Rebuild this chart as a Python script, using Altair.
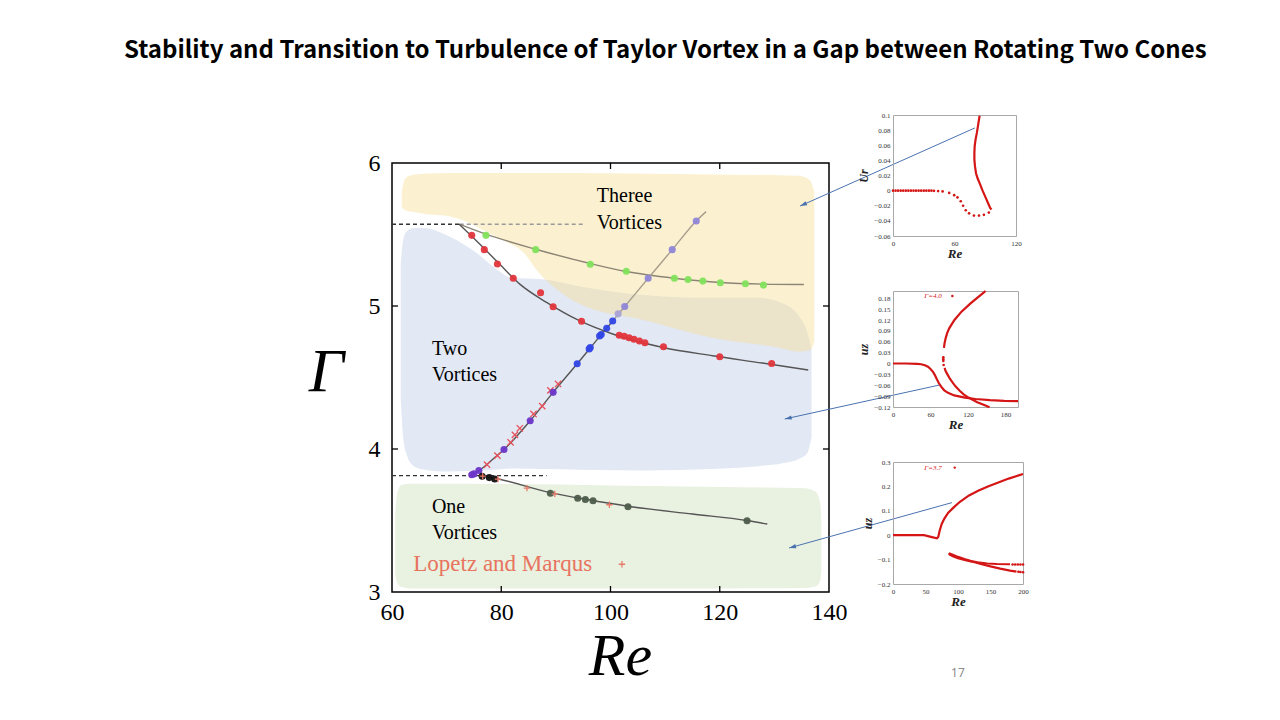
import altair as alt
import pandas as pd

TITLE = "Stability and Transition to Turbulence of Taylor Vortex in a Gap between Rotating Two Cones"
SERIF = "Liberation Serif"

# ---------------- main chart : axes ----------------
x_ticks = [60, 80, 100, 120, 140]
y_ticks = [3, 4, 5, 6]
inner_x_ticks = [80, 100, 120]
inner_y_ticks = [4, 5]

# ---------------- shaded regions ----------------
blue_re = [61.6, 62.0, 62.6, 64.0, 66.0, 69.1, 72.1, 75.7, 78.8, 81.9, 88.0, 94.0, 106.6, 118.6, 127.0, 131.5, 134.5, 136.0, 136.8]
blue_top = [5.30, 5.45, 5.52, 5.545, 5.546, 5.511, 5.455, 5.365, 5.267, 5.197, 5.185, 5.14, 5.075, 5.057, 5.057, 5.02, 4.93, 4.82, 4.70]
blue_bot = [4.35, 4.10, 3.97, 3.88, 3.855, 3.843, 3.845, 3.85, 3.855, 3.863, 3.86, 3.855, 3.85, 3.86, 3.88, 3.90, 3.93, 3.97, 4.08]

yellow_re = [61.8, 62.4, 63.5, 66.0, 70.2, 73.3, 77.0, 80.6, 84.3, 86.5, 90.0, 94.3, 106.6, 118.6, 130.9, 134.5, 136.5, 137.3]
yellow_top = [5.80, 5.89, 5.915, 5.925, 5.93, 5.93, 5.93, 5.93, 5.93, 5.93, 5.93, 5.93, 5.925, 5.92, 5.915, 5.91, 5.88, 5.80]
yellow_bot = [5.69, 5.67, 5.66, 5.644, 5.63, 5.595, 5.525, 5.455, 5.365, 5.25, 5.12, 5.015, 4.897, 4.778, 4.708, 4.68, 4.69, 4.75]

green_re = [60.6, 61.0, 61.8, 63.5, 80.0, 100.0, 120.0, 135.5, 137.6, 138.4, 138.6]
green_top = [3.55, 3.70, 3.75, 3.757, 3.755, 3.745, 3.735, 3.725, 3.70, 3.62, 3.50]
green_bot = [3.12, 3.06, 3.035, 3.025, 3.025, 3.025, 3.025, 3.028, 3.04, 3.08, 3.15]

# ---------------- critical lines ----------------
dash_re = [60.0, 72.4, 60.0]
dash_re2 = [72.4, 94.9, 88.3]
dash_g = [5.572, 5.572, 3.814]
dash_kind = ["black", "gray", "black"]

two_line_re = [72.3, 76.1, 79.7, 83.4, 88.3, 94.3, 100.4, 109.6, 118.7, 127.8, 136.2]
two_line_g = [5.572, 5.432, 5.293, 5.153, 5.025, 4.897, 4.804, 4.71, 4.652, 4.601, 4.552]

three_line_re = [72.3, 77.2, 86.3, 96.3, 102.9, 111.7, 120.1, 128.0, 135.4]
three_line_g = [5.572, 5.502, 5.397, 5.297, 5.241, 5.194, 5.164, 5.153, 5.15]

diag_low_re = [75.0, 76.5, 78.5, 80.5, 85.3, 89.5, 93.9, 98.3, 100.4]
diag_low_g = [3.826, 3.865, 3.93, 3.996, 4.198, 4.396, 4.596, 4.80, 4.895]
diag_up_re = [100.4, 102.6, 106.9, 111.3, 115.7, 117.5]
diag_up_g = [4.895, 4.996, 5.194, 5.394, 5.595, 5.66]

one_line_re = [76.1, 79.5, 89.0, 96.0, 103.2, 115.0, 125.0, 128.7]
one_line_g = [3.814, 3.79, 3.695, 3.645, 3.60, 3.545, 3.50, 3.475]

# ---------------- data points ----------------
red_re = [74.6, 76.9, 79.3, 82.2, 87.2, 89.5, 94.7, 101.6, 102.5, 103.4, 104.3, 105.3, 106.3, 109.7, 120.0, 129.5]
red_g = [5.494, 5.394, 5.294, 5.194, 5.093, 4.995, 4.893, 4.795, 4.788, 4.778, 4.767, 4.755, 4.743, 4.715, 4.645, 4.598]

green_pt_re = [77.2, 86.3, 96.3, 102.9, 111.7, 114.2, 116.9, 120.1, 124.7, 128.0]
green_pt_g = [5.494, 5.394, 5.292, 5.243, 5.194, 5.185, 5.174, 5.162, 5.155, 5.146]

violet_re = [115.7, 111.3, 106.9, 102.6]
violet_g = [5.595, 5.394, 5.194, 4.996]
lightviolet_re = [101.4]
lightviolet_g = [4.945]

blue_pt_re = [100.4, 99.3, 98.3, 98.0, 96.3, 96.1, 93.9]
blue_pt_g = [4.895, 4.845, 4.80, 4.79, 4.71, 4.70, 4.596]

purple_re = [89.5, 85.3, 80.5, 75.9, 75.0, 74.6]
purple_g = [4.396, 4.198, 3.996, 3.85, 3.826, 3.82]

black_re = [76.5, 77.8, 78.8]
black_g = [3.81, 3.80, 3.79]

dark_re = [89.0, 94.0, 95.4, 96.8, 103.2, 125.0]
dark_g = [3.69, 3.656, 3.647, 3.638, 3.596, 3.498]

xmark_re = [77.4, 79.3, 81.7, 82.5, 83.4, 85.9, 87.5, 89.0, 90.4]
xmark_g = [3.89, 3.954, 4.047, 4.099, 4.145, 4.245, 4.30, 4.41, 4.455]

plus_re = [76.6, 79.4, 84.7, 89.8, 99.8, 102.1]
plus_g = [3.81, 3.79, 3.726, 3.686, 3.61, 3.194]

# ---------------- region labels ----------------
label_text = ["Theree", "Vortices", "Two", "Vortices", "One", "Vortices"]
label_re = [97.5, 97.5, 67.3, 67.3, 67.3, 67.3]
label_g = [5.769, 5.58, 4.70, 4.517, 3.594, 3.415]
ref_text = ["Lopetz and Marqus"]
ref_re = [63.9]
ref_g = [3.194]

# ---------------- arrows to insets (main-chart data units) ----------------
arrow_re = [166.7, 160.3, 162.5]
arrow_g = [6.245, 4.448, 3.625]
arrow_re2 = [134.7, 131.9, 132.7]
arrow_g2 = [5.699, 4.21, 3.308]
arrow_ang = [246, 257.6, 254.4]

page_text = ["17"]
page_re = [163.6]
page_g = [2.434]

# ---------------- inset 1 : Ur vs Re ----------------
in1_dot_x = [0, 2.5, 5, 7.5, 10, 12.5, 15, 17.5, 20, 22.5, 25, 27.5, 30, 32.5, 35, 37.5, 40, 44, 48.4, 54.8, 59.7, 62.9, 66.1, 68.4, 71.0, 74.2, 79.0, 83.9, 88.7, 93.5]
in1_dot_y = [0, 0, 0, 0, 0, 0, 0, 0, 0, 0, 0, 0, 0, 0, 0, 0, -0.0003, -0.0006, -0.001, -0.003, -0.006, -0.009, -0.014, -0.020, -0.026, -0.030, -0.033, -0.033, -0.032, -0.029]
in1_line_x = [96.1, 94.8, 92.9, 90.3, 87.4, 84.8, 82.6, 81.0, 80.0, 79.4, 79.4, 79.7, 80.6, 81.9, 83.2, 84.5]
in1_line_y = [-0.025, -0.023, -0.017, -0.009, 0.0, 0.009, 0.016, 0.023, 0.032, 0.041, 0.050, 0.059, 0.068, 0.077, 0.088, 0.099]

# ---------------- inset 2 : uz vs Re (Gamma = 4.0) ----------------
in2_a_x = [0, 20, 39, 45, 51, 56, 60, 64, 67, 70, 73, 77, 82, 88, 98, 115, 132, 155, 178, 200]
in2_a_y = [0, 0, -0.001, -0.002, -0.005, -0.009, -0.015, -0.023, -0.032, -0.043, -0.053, -0.064, -0.074, -0.081, -0.088, -0.094, -0.098, -0.101, -0.103, -0.104]
in2_b_x = [81.5, 82.5, 84.3, 86.5, 89.9, 98.3, 109.6, 123.6, 137.6, 146.0, 148.0]
in2_b_y = [0.043, 0.056, 0.07, 0.083, 0.097, 0.12, 0.143, 0.165, 0.185, 0.197, 0.2]
in2_c_x = [82.6, 84.0, 87.1, 91.0, 95.5, 100.0, 106.7, 113.0, 120.8, 134.8, 145.0, 154.5]
in2_c_y = [-0.012, -0.02, -0.030, -0.042, -0.053, -0.063, -0.075, -0.085, -0.094, -0.107, -0.114, -0.121]
in2_dot_x = [80.5, 80.5, 80.5, 81.0]
in2_dot_y = [0.017, 0.012, 0.007, -0.004]

# ---------------- inset 3 : uz vs Re (Gamma = 3.7) ----------------
in3_a_x = [0, 21.8, 42.6, 47.8, 58.2, 67.5, 69.6, 71.7, 74.8, 79.0, 85.0, 93.0, 103.0, 117.0, 131.0, 146.0, 162.0, 178.0, 200.0]
in3_a_y = [0, 0, 0, 0, -0.007, -0.013, -0.007, 0.017, 0.045, 0.068, 0.092, 0.113, 0.137, 0.163, 0.182, 0.200, 0.216, 0.232, 0.251]
in3_b_x = [86, 88, 92, 100, 110, 120, 130, 145, 160, 180]
in3_b_y = [-0.074, -0.076, -0.080, -0.089, -0.098, -0.106, -0.111, -0.116, -0.118, -0.119]
in3_c_x = [86, 87, 92, 100, 110, 120, 135, 150, 165, 180, 190]
in3_c_y = [-0.074, -0.079, -0.086, -0.094, -0.101, -0.107, -0.118, -0.128, -0.137, -0.145, -0.149]
in3_dot_x = [184, 188, 192, 196, 200, 193, 196, 200]
in3_dot_y = [-0.12, -0.12, -0.12, -0.12, -0.12, -0.150, -0.151, -0.152]

# ---------------- layout constants ----------------
MAIN_W, MAIN_H = 437, 429
RED = "#d41616"

xs = alt.Scale(domain=[60, 140], nice=False, zero=False)
ys = alt.Scale(domain=[3, 6], nice=False, zero=False)
xax = alt.Axis(values=x_ticks, title="Re", grid=False, ticks=False, domain=False,
               labelFont=SERIF, labelFontSize=24, labelColor="black", labelPadding=8,
               labelFlush=False, labelOverlap=False,
               titleFont=SERIF, titleFontStyle="italic", titleFontWeight="normal",
               titleFontSize=60, titleColor="black", titleX=228, titleY=64,
               titleBaseline="middle", titleAlign="center")
yax = alt.Axis(values=y_ticks, title="Γ", grid=False, ticks=False, domain=False,
               labelFont=SERIF, labelFontSize=24, labelColor="black", labelPadding=12,
               labelFlush=False, labelOverlap=False,
               titleFont=SERIF, titleFontStyle="italic", titleFontWeight="normal",
               titleFontSize=62, titleColor="black", titleAngle=0, titleX=-66, titleY=208,
               titleBaseline="middle", titleAlign="center")


def X(f="re"):
    return alt.X(f + ":Q", scale=xs, axis=xax)


def Y(f="g"):
    return alt.Y(f + ":Q", scale=ys, axis=yax)


def df(**cols):
    return pd.DataFrame(cols)


def area(re, top, bot, color, opacity):
    return alt.Chart(df(re=re, g=top, g2=bot)).mark_area(
        color=color, opacity=opacity, interpolate="monotone").encode(x=X(), y=Y(), y2="g2:Q")


def line(re, g, color, width=1.4):
    return alt.Chart(df(re=re, g=g)).mark_line(
        color=color, strokeWidth=width, interpolate="monotone").encode(x=X(), y=Y())


def dots(re, g, color, size=50, opacity=0.95):
    return alt.Chart(df(re=re, g=g)).mark_circle(
        color=color, size=size, opacity=opacity).encode(x=X(), y=Y())


XSHAPE = "M -1 -1 L 1 1 M -1 1 L 1 -1"
PSHAPE = "M -1 0 L 1 0 M 0 -1 L 0 1"
HEAD = "M 0 0 L 0.55 1.8 L -0.55 1.8 Z"

layers = [
    area(blue_re, blue_top, blue_bot, "#e2e8f4", 1.0),
    area(yellow_re, yellow_top, yellow_bot, "#f7e09a", 0.45),
    area(green_re, green_top, green_bot, "#e9f1e0", 1.0),
    alt.Chart(df(re=dash_re, re2=dash_re2, g=dash_g, k=dash_kind)).mark_rule(
        strokeDash=[4, 3], strokeWidth=1.4).encode(
        x=X(), x2="re2:Q", y=Y(),
        color=alt.Color("k:N", scale=alt.Scale(domain=["black", "gray"], range=["#333333", "#9a9a9a"]), legend=None)),
    line(three_line_re, three_line_g, "#8c8474"),
    line(two_line_re, two_line_g, "#555555"),
    line(diag_up_re, diag_up_g, "#a89e8e"),
    line(diag_low_re, diag_low_g, "#555555"),
    line(one_line_re, one_line_g, "#555555"),
    dots(green_pt_re, green_pt_g, "#82e25c"),
    dots(red_re, red_g, "#e2353c"),
    dots(violet_re, violet_g, "#8f86d8"),
    dots(lightviolet_re, lightviolet_g, "#a9a2d6"),
    dots(blue_pt_re, blue_pt_g, "#3046e6"),
    alt.Chart(df(re=xmark_re, g=xmark_g)).mark_point(
        shape=XSHAPE, size=40, filled=False, color="#e8505a", strokeWidth=1.3, opacity=1).encode(x=X(), y=Y()),
    dots(purple_re, purple_g, "#6b35c8"),
    dots(black_re, black_g, "#111111"),
    dots(dark_re, dark_g, "#4d5c4b"),
    alt.Chart(df(re=plus_re, g=plus_g)).mark_point(
        shape=PSHAPE, size=40, filled=False, color="#e87a6a", strokeWidth=1.3, opacity=1).encode(x=X(), y=Y()),
    alt.Chart(df(re=label_re, g=label_g, t=label_text)).mark_text(
        font=SERIF, fontSize=20, align="left", baseline="middle", color="black").encode(x=X(), y=Y(), text="t:N"),
    alt.Chart(df(re=ref_re, g=ref_g, t=ref_text)).mark_text(
        font=SERIF, fontSize=23, align="left", baseline="middle", color="#e8735f").encode(x=X(), y=Y(), text="t:N"),
    # inward ticks
    alt.Chart(df(re=inner_x_ticks)).mark_rule(color="black", strokeWidth=1.3).encode(
        x=X(), y=alt.value(MAIN_H), y2=alt.value(MAIN_H - 6)),
    alt.Chart(df(re=inner_x_ticks)).mark_rule(color="black", strokeWidth=1.3).encode(
        x=X(), y=alt.value(0), y2=alt.value(6)),
    alt.Chart(df(g=inner_y_ticks)).mark_rule(color="black", strokeWidth=1.3).encode(
        y=Y(), x=alt.value(0), x2=alt.value(6)),
    alt.Chart(df(g=inner_y_ticks)).mark_rule(color="black", strokeWidth=1.3).encode(
        y=Y(), x=alt.value(MAIN_W), x2=alt.value(MAIN_W - 6)),
    # arrows
    alt.Chart(df(re=arrow_re, g=arrow_g, re2=arrow_re2, g2=arrow_g2)).mark_rule(
        color="#4a72b0", strokeWidth=1).encode(x=X(), y=Y(), x2="re2:Q", y2="g2:Q"),
    alt.Chart(df(re=arrow_re2, g=arrow_g2, a=arrow_ang)).mark_point(
        shape=HEAD, size=60, filled=True, color="#4a72b0", opacity=1).encode(
        x=X(), y=Y(), angle=alt.Angle("a:Q", scale=None)),
    alt.Chart(df(re=page_re, g=page_g, t=page_text)).mark_text(
        font="Noto Sans", fontSize=12, color="#8a8a8a", align="center", baseline="middle").encode(
        x=X(), y=Y(), text="t:N"),
]

main = alt.layer(*layers).properties(
    width=MAIN_W, height=MAIN_H, view=alt.ViewBackground(stroke="black", strokeWidth=1.5))

spacer = alt.Chart(df(s=[0])).mark_point(opacity=0).encode(
    x=alt.X("s:Q", axis=None), y=alt.Y("s:Q", axis=None)).properties(width=MAIN_W, height=48)


def inset(lines, dotsets, xdom, xvals, ydom, yvals, ytitle, w, h, legend=None):
    sx = alt.Scale(domain=xdom, nice=False, zero=False)
    sy = alt.Scale(domain=ydom, nice=False, zero=False)
    ax = alt.Axis(values=xvals, grid=False, ticks=False, domain=False, title="Re",
                  labelFont=SERIF, labelFontSize=7, labelColor="#333333", labelPadding=3,
                  labelFlush=False, labelOverlap=False,
                  titleFont=SERIF, titleFontStyle="italic", titleFontWeight="bold",
                  titleFontSize=13, titleColor="#222222", titlePadding=1)
    ay = alt.Axis(values=yvals, grid=False, ticks=False, domain=False, title=ytitle, format="~g",
                  labelFont=SERIF, labelFontSize=7, labelColor="#333333", labelPadding=3,
                  labelFlush=False, labelOverlap=False,
                  titleFont=SERIF, titleFontStyle="italic", titleFontWeight="bold",
                  titleFontSize=12, titleColor="#222222", titlePadding=3)
    ex = lambda: alt.X("x:Q", scale=sx, axis=ax)
    ey = lambda: alt.Y("y:Q", scale=sy, axis=ay)
    parts = []
    for xs_, ys_ in lines:
        parts.append(alt.Chart(df(x=xs_, y=ys_, o=list(range(len(xs_))))).mark_line(
            color=RED, strokeWidth=2.2).encode(x=ex(), y=ey(), order="o:Q"))
    for xs_, ys_ in dotsets:
        parts.append(alt.Chart(df(x=xs_, y=ys_)).mark_circle(
            color=RED, size=7, opacity=1).encode(x=ex(), y=ey()))
    if legend is not None:
        lt, lx, ly, dx_ = legend
        parts.append(alt.Chart(df(x=[lx], y=[ly], t=[lt])).mark_text(
            font=SERIF, fontSize=7, fontStyle="italic", color=RED, align="left", baseline="middle").encode(
            x=ex(), y=ey(), text="t:N"))
        parts.append(alt.Chart(df(x=[dx_], y=[ly])).mark_circle(color=RED, size=6, opacity=1).encode(
            x=ex(), y=ey()))
    return alt.layer(*parts).properties(
        width=w, height=h, view=alt.ViewBackground(stroke="#a8a8a8", strokeWidth=1))


inset1 = inset([(in1_line_x, in1_line_y)], [(in1_dot_x, in1_dot_y)],
               [0, 120], [0, 60, 120], [-0.06, 0.1],
               [-0.06, -0.04, -0.02, 0, 0.02, 0.04, 0.06, 0.08, 0.1], "Ur", 123, 121)
inset2 = inset([(in2_a_x, in2_a_y), (in2_b_x, in2_b_y), (in2_c_x, in2_c_y)], [(in2_dot_x, in2_dot_y)],
               [0, 200], [0, 60, 120, 180], [-0.12, 0.2],
               [-0.12, -0.09, -0.06, -0.03, 0, 0.03, 0.06, 0.09, 0.12, 0.15, 0.18], "uz", 125, 116,
               legend=("Γ=4.0", 50, 0.186, 95))
inset3 = inset([(in3_a_x, in3_a_y), (in3_b_x, in3_b_y), (in3_c_x, in3_c_y)], [(in3_dot_x, in3_dot_y)],
               [0, 200], [0, 50, 100, 150, 200], [-0.2, 0.3],
               [-0.2, -0.1, 0, 0.1, 0.2, 0.3], "uz", 130, 122,
               legend=("Γ=3.7", 48, 0.277, 95))

left = alt.vconcat(spacer, main, spacing=0, bounds="flush")
right = alt.vconcat(inset1, inset2, inset3, spacing=55, bounds="flush")

chart = alt.hconcat(left, right, spacing=501, bounds="flush").properties(
    title=alt.TitleParams(TITLE, font="Noto Sans CJK JP", fontSize=24, fontWeight="bold",
                          color="black", anchor="start", frame="group", dx=-268, offset=48),
    padding={"left": 116, "top": 30, "right": 0, "bottom": 0},
).configure_view(stroke=None).configure_concat(spacing=0)

chart.save("out.html", embed_options={"renderer": "svg", "actions": False})
